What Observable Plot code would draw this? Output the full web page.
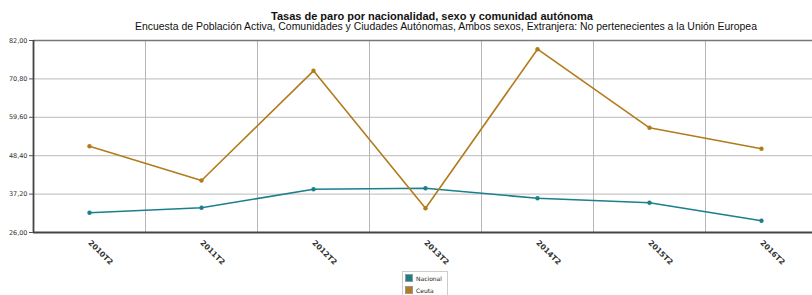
<!DOCTYPE html>
<html>
<head>
<meta charset="utf-8">
<script src="https://cdn.jsdelivr.net/npm/d3@7"></script>
<script src="https://cdn.jsdelivr.net/npm/@observablehq/plot@0.6"></script>
<style>
  html, body { margin: 0; padding: 0; background: #fff; width: 812px; height: 295px; overflow: hidden; position: relative; font-family: "Liberation Sans", Arial, sans-serif; }
  #title { position: absolute; left: 0; width: 864px; top: 10px; text-align: center; font-weight: bold; font-size: 11px; line-height: 12px; color: #111; white-space: nowrap; }
  #subtitle { position: absolute; left: 0; width: 892px; top: 21px; text-align: center; font-size: 10.45px; line-height: 12px; color: #111; white-space: nowrap; }
  #chart { position: absolute; left: 0; top: 34px; }
  #legend { position: absolute; left: 402px; top: 271px; width: 46px; height: 30px; border: 1px solid #ccc; box-sizing: border-box; font-family: "DejaVu Sans", sans-serif; font-size: 6px; color: #222; }
  .item { position: absolute; left: 2px; display: flex; align-items: center; }
  .sw { width: 8px; height: 8px; margin-right: 3px; border: 1px solid #999; box-sizing: border-box; }
</style>
</head>
<body>
<div id="title">Tasas de paro por nacionalidad, sexo y comunidad autónoma</div>
<div id="subtitle">Encuesta de Población Activa, Comunidades y Ciudades Autónomas, Ambos sexos, Extranjera: No pertenecientes a la Unión Europea</div>
<div id="chart"></div>
<div id="legend"></div>
<script>
const categories = ["2010T2", "2011T2", "2012T2", "2013T2", "2014T2", "2015T2", "2016T2"];
const nacional = [31.74, 33.2, 38.63, 38.92, 36.0, 34.66, 29.41];
const ceuta = [51.17, 41.17, 73.16, 33.09, 79.46, 56.54, 50.41];
const yTicks = [26, 37.2, 48.4, 59.6, 70.8, 82];
const seriesNames = ["Nacional", "Ceuta"];
const seriesColors = ["#1b7f8c", "#b27b1c"];

const values = [nacional, ceuta];
const data = [];
seriesNames.forEach((s, si) => {
  categories.forEach((c, i) => data.push({series: s, idx: i, cat: c, value: values[si][i]}));
});
const boundaries = d3.range(categories.length - 1).map(i => i + 0.5);
const fmt = d => d.toFixed(2).replace(".", ",");

const plot = Plot.plot({
  width: 812,
  height: 236,
  marginTop: 6,
  marginBottom: 38,
  marginLeft: 33,
  marginRight: 0,
  style: { fontFamily: "'DejaVu Sans', sans-serif", fontSize: "6.5px", color: "#333", background: "#fff" },
  x: { type: "linear", domain: [-0.5, categories.length - 0.5], range: [33, 817], label: null },
  y: { domain: [26, 82], label: null },
  color: { domain: seriesNames, range: seriesColors },
  marks: [
    Plot.ruleY(yTicks.slice(1, -1), { stroke: "#c8c8c8", strokeWidth: 1.2 }),
    Plot.ruleX(boundaries, { stroke: "#b5b5b5", strokeWidth: 1 }),
    Plot.axisY({ ticks: yTicks, tickFormat: fmt, tickSize: 4, tickPadding: 2, stroke: "#555", fill: "#333", fontSize: 6.5, label: null }),
    Plot.axisX({ ticks: d3.range(categories.length), tickFormat: i => categories[i], tickRotate: 45, tickSize: 0, tickPadding: 9, fill: "#333", fontSize: 7.5, fontWeight: "bold", label: null }),
    Plot.ruleY([82], { stroke: "#777", strokeWidth: 1.5 }),
    Plot.ruleY([26], { stroke: "#444", strokeWidth: 1.8 }),
    Plot.ruleX([-0.5], { stroke: "#444", strokeWidth: 1.8 }),
    Plot.line(data, { x: "idx", y: "value", z: "series", stroke: "series", strokeWidth: 1.6 }),
    Plot.dot(data, { x: "idx", y: "value", fill: "series", r: 2.2 })
  ]
});
document.getElementById("chart").appendChild(plot);

const legend = document.getElementById("legend");
seriesNames.forEach((s, i) => {
  const item = document.createElement("div");
  item.className = "item";
  item.style.top = (2 + i * 12) + "px";
  const sw = document.createElement("div");
  sw.className = "sw";
  sw.style.background = seriesColors[i];
  item.appendChild(sw);
  const t = document.createElement("span");
  t.textContent = s;
  item.appendChild(t);
  legend.appendChild(item);
});
</script>
</body>
</html>
